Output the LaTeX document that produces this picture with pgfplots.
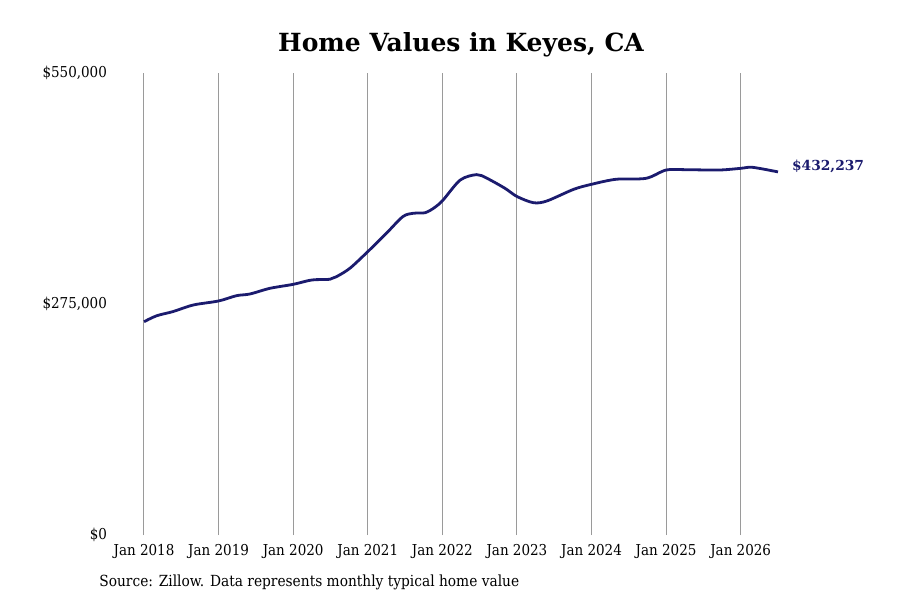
\documentclass[border=0pt]{standalone}
\usepackage{fontspec}
\setmainfont{DejaVu Serif Condensed}
\newfontfamily\titlefont{DejaVu Serif}
\usepackage{pgfplots}
\pgfplotsset{compat=1.18}
\definecolor{linenavy}{HTML}{1B1B6E}
\definecolor{gridgray}{HTML}{9A9A9A}
\begin{document}
\begin{tikzpicture}
\path[use as bounding box] (-72pt,-32.5pt) rectangle (378pt,267.5pt);
\begin{axis}[
    at={(0,0)}, anchor=south west,
    scale only axis,
    width=317pt, height=231pt,
    xmin=2018, xmax=2026.5,
    ymin=0, ymax=550000,
    axis line style={draw=none},
    xtick={2018,2019,2020,2021,2022,2023,2024,2025,2026},
    xticklabels={Jan 2018,Jan 2019,Jan 2020,Jan 2021,Jan 2022,Jan 2023,Jan 2024,Jan 2025,Jan 2026},
    ytick={0,275000,550000},
    yticklabels={{\$0},{\$275,000},{\$550,000}},
    scaled y ticks=false,
    xmajorgrids,
    major grid style={gridgray, line width=0.5pt},
    major tick length=0pt,
    tick style={draw=none},
    tick label style={font=\fontsize{7.5}{8}\selectfont},
    xticklabel style={yshift=-1pt},
    yticklabel style={anchor=east, xshift=-15pt},
    clip=false,
]
\addplot[linenavy, line width=1.4pt, smooth, tension=0.5] coordinates {
(2018.00,253900) (2018.17,261000) (2018.39,266000) (2018.66,273800)
(2019.00,278600) (2019.24,284900) (2019.42,286900) (2019.69,293700)
(2020.00,298400) (2020.25,303600) (2020.49,304400) (2020.58,307500)
(2020.76,317500) (2021.00,337300) (2021.25,359200) (2021.47,379000)
(2021.61,383000) (2021.77,383700) (2021.90,390100) (2022.01,398800)
(2022.24,422600) (2022.46,429000) (2022.60,424600) (2022.84,412700)
(2023.00,403000) (2023.22,395600) (2023.40,397600) (2023.76,411500)
(2024.00,417500) (2024.33,423500) (2024.73,424600) (2025.00,434500)
(2025.26,434900) (2025.71,434500) (2026.00,436500) (2026.16,437700)
(2026.50,432237)
};
\node[anchor=west, text=linenavy, font=\titlefont\bfseries\fontsize{6.9}{8}\selectfont, xshift=3.5pt, yshift=3pt]
  at (axis cs:2026.5,432237) {\$432,237};
\end{axis}
\node[font=\titlefont\bfseries\fontsize{12.5}{14}\selectfont] at (158.5pt,245pt) {Home Values in Keyes, CA};
\node[anchor=west, font=\fontsize{7.65}{8}\selectfont, inner sep=0pt] at (-22.5pt,-23.5pt) {Source: Zillow. Data represents monthly typical home value};
\end{tikzpicture}
\end{document}
